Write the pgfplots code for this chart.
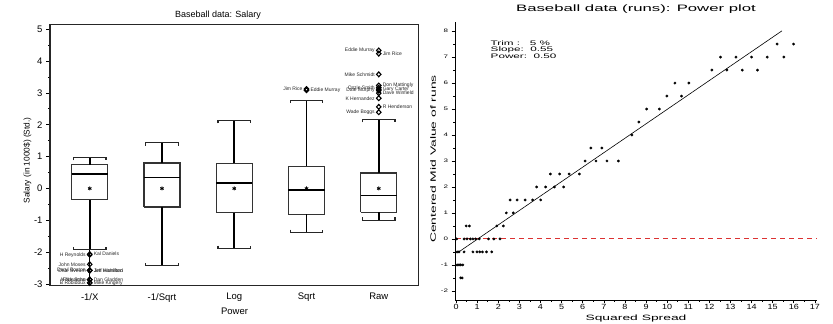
\documentclass[border=0pt]{standalone}
\usepackage{graphicx}
\usepackage{pgfplots}
\pgfplotsset{compat=1.18}
\usepackage{fontspec}
\setmainfont{Liberation Sans}
% extended faces used on the power plot
\newfontfamily\wideA[FakeStretch=1.8]{Liberation Sans}
\newfontfamily\wideB[FakeStretch=1.2]{Liberation Sans}
\newfontfamily\wideC[FakeStretch=1.6]{Liberation Sans}
\definecolor{refred}{RGB}{220,50,50}

\pgfplotsset{
  boxedge/.style={black!80, line width=1.3pt},
  medline/.style={black, line width=1.6pt},
  whisk/.style={black, line width=1.6pt},
  capline/.style={black!85, line width=1.1pt},
  outl/.style={only marks, mark=diamond, mark size=2.4pt,
    mark options={draw=black, fill=white, line width=1.1pt, xscale=1.25},
    nodes near coords, point meta=explicit symbolic},
  labL/.style={nodes near coords style={anchor=east, xshift=-3.5pt,
    font=\fontsize{5}{5}\selectfont, text=black!85, inner sep=0pt}},
  labR/.style={nodes near coords style={anchor=west, xshift=3.5pt,
    font=\fontsize{5}{5}\selectfont, text=black!85, inner sep=0pt}},
}

\begin{document}
\begin{tikzpicture}
\path[use as bounding box] (0pt,0pt) rectangle (833pt,324pt);

% ---------------- Salary box plots ----------------
\begin{axis}[
  at={(50pt,38.3pt)}, anchor=south west, scale only axis,
  width=368.5pt, height=261.4pt,
  xmin=0.45, xmax=5.55, ymin=-3.05, ymax=5.15,
  clip=false,
  axis line style={black!85, line width=1.1pt},
  xtick={1,2,3,4,5}, xticklabels={-1/X,-1/Sqrt,Log,Sqrt,Raw},
  xtick pos=bottom, ytick pos=left,
  major x tick style={draw=none},
  ytick={-3,-2,-1,0,1,2,3,4,5}, minor y tick num=1,
  tick align=outside,
  major tick length=4pt, minor tick length=2pt,
  tick style={black, line width=0.6pt},
  tick label style={font=\fontsize{9.5}{10}\selectfont},
  /pgf/number format/assume math mode=true,
]
% -1/X
\addplot[boxedge] coordinates {(0.75,-0.35) (1.25,-0.35) (1.25,0.75) (0.75,0.75) (0.75,-0.35)};
\addplot[medline] coordinates {(0.75,0.46) (1.25,0.46)};
\addplot[whisk] coordinates {(1,0.75) (1,0.97)};
\addplot[whisk] coordinates {(1,-0.35) (1,-1.92)};
\addplot[black, line width=1.2pt] coordinates {(1,-1.92) (1,-3.05)};
\addplot[capline] coordinates {(0.775,0.88) (0.775,0.97) (1.225,0.97) (1.225,0.88)};
\addplot[capline] coordinates {(0.775,-1.83) (0.775,-1.92) (1.225,-1.92) (1.225,-1.83)};
% -1/Sqrt
\addplot[boxedge] coordinates {(1.75,-0.58) (2.25,-0.58) (2.25,0.80) (1.75,0.80) (1.75,-0.58)};
\addplot[medline] coordinates {(1.75,0.35) (2.25,0.35)};
\addplot[whisk] coordinates {(2,0.80) (2,1.43)};
\addplot[whisk] coordinates {(2,-0.58) (2,-2.43)};
\addplot[capline] coordinates {(1.775,1.34) (1.775,1.43) (2.225,1.43) (2.225,1.34)};
\addplot[capline] coordinates {(1.775,-2.34) (1.775,-2.43) (2.225,-2.43) (2.225,-2.34)};
% Log
\addplot[boxedge] coordinates {(2.75,-0.76) (3.25,-0.76) (3.25,0.79) (2.75,0.79) (2.75,-0.76)};
\addplot[medline] coordinates {(2.75,0.17) (3.25,0.17)};
\addplot[whisk] coordinates {(3,0.79) (3,2.13)};
\addplot[whisk] coordinates {(3,-0.76) (3,-1.88)};
\addplot[capline] coordinates {(2.775,2.04) (2.775,2.13) (3.225,2.13) (3.225,2.04)};
\addplot[capline] coordinates {(2.775,-1.79) (2.775,-1.88) (3.225,-1.88) (3.225,-1.79)};
% Sqrt
\addplot[boxedge] coordinates {(3.75,-0.81) (4.25,-0.81) (4.25,0.70) (3.75,0.70) (3.75,-0.81)};
\addplot[medline] coordinates {(3.75,-0.05) (4.25,-0.05)};
\addplot[whisk] coordinates {(4,0.70) (4,2.77)};
\addplot[whisk] coordinates {(4,-0.81) (4,-1.38)};
\addplot[capline] coordinates {(3.775,2.68) (3.775,2.77) (4.225,2.77) (4.225,2.68)};
\addplot[capline] coordinates {(3.775,-1.29) (3.775,-1.38) (4.225,-1.38) (4.225,-1.29)};
% Raw
\addplot[boxedge] coordinates {(4.75,-0.75) (5.25,-0.75) (5.25,0.49) (4.75,0.49) (4.75,-0.75)};
\addplot[medline] coordinates {(4.75,-0.22) (5.25,-0.22)};
\addplot[whisk] coordinates {(5,0.49) (5,2.16)};
\addplot[whisk] coordinates {(5,-0.75) (5,-1.00)};
\addplot[capline] coordinates {(4.775,2.07) (4.775,2.16) (5.225,2.16) (5.225,2.07)};
\addplot[capline] coordinates {(4.775,-0.91) (4.775,-1.00) (5.225,-1.00) (5.225,-0.91)};
% means
\addplot[only marks, mark=asterisk, mark size=2pt, mark options={black, line width=0.8pt}]
  coordinates {(1,0) (2,0) (3,0) (4,0) (5,0)};
% outliers, names to the left
\addplot[outl, labL] coordinates {
  (1,-2.08) [H Reynolds] (1,-2.38) [John Moses]
  (1,-2.57) [Dale Sveum] (1,-2.57) [Daryl Boston]
  (1,-2.86) [Al Newman] (1,-2.86) [Rick Schu] (1,-2.96) [B Robidoux]
  (4,3.12) [Jim Rice]
  (5,4.33) [Eddie Murray] (5,3.58) [Mike Schmidt] (5,3.16) [Ozzie Smith]
  (5,3.07) [Dale Murphy] (5,2.83) [K Hernandez] (5,2.39) [Wade Boggs]};
% outliers, names to the right
\addplot[outl, labR] coordinates {
  (1,-2.06) [Kal Daniels] (1,-2.57) [Jeff Hamilton] (1,-2.57) [Jim Wohlford]
  (1,-2.86) [Dan Gladden] (1,-2.96) [Mike Kingery]
  (4,3.08) [Eddie Murray]
  (5,4.23) [Jim Rice] (5,3.23) [Don Mattingly] (5,3.11) [Gary Carter]
  (5,2.99) [Dave Winfield] (5,2.56) [R Henderson]};
\end{axis}
\node[font=\fontsize{9}{10}\selectfont] at (218pt,309.3pt) {Baseball data: Salary};
\node[font=\fontsize{9.5}{10}\selectfont] at (234.5pt,12.3pt) {Power};
\node[font=\fontsize{8.3}{9}\selectfont, rotate=90] at (27.5pt,163.5pt) {Salary (in 1000\$) (Std.)};

% ---------------- Power plot for runs ----------------
\begin{axis}[
  at={(455pt,24pt)}, anchor=south west, scale only axis,
  width=362pt, height=278pt,
  xmin=-0.05, xmax=17.1, ymin=-2.35, ymax=8.35,
  clip=false,
  axis x line*=bottom, axis y line*=left,
  axis line style={black, line width=0.9pt, -},
  xtick={0,1,...,17}, ytick={-2,-1,...,8},
  minor x tick num=1, minor y tick num=1,
  tick align=outside,
  major tick length=3.5pt, minor tick length=2pt,
  tick style={black, line width=0.6pt},
  xticklabel style={font=\wideB\fontsize{7.5}{8}\selectfont, yshift=2.5pt},
  yticklabel style={font=\wideC\fontsize{5}{6}\selectfont},
  /pgf/number format/assume math mode=true,
]
\addplot[refred, line width=0.9pt, dash pattern=on 5pt off 4pt] coordinates {(0,0) (17.1,0)};
\addplot[black, line width=0.6pt] coordinates {(0.11,-0.51) (15.44,8.01)};
\addplot[only marks, mark=*, mark size=1.2pt, mark options={black}] coordinates {
  (15.21,7.5) (15.99,7.5)
  (12.53,7) (13.26,7) (14.00,7) (14.74,7) (15.53,7)
  (12.12,6.5) (12.83,6.5) (13.56,6.5) (14.28,6.5)
  (10.37,6) (11.03,6)
  (9.99,5.5) (10.68,5.5)
  (9.03,5) (9.63,5)
  (8.66,4.5)
  (8.33,4)
  (6.39,3.5) (6.91,3.5)
  (6.11,3) (6.63,3) (7.15,3) (7.69,3)
  (4.47,2.5) (4.91,2.5) (5.36,2.5) (5.84,2.5)
  (3.82,2) (4.24,2) (4.66,2) (5.10,2)
  (2.56,1.5) (2.89,1.5) (3.27,1.5) (3.63,1.5) (4.01,1.5)
  (2.38,1) (2.71,1)
  (0.48,0.5) (0.63,0.5) (1.93,0.5) (2.24,0.5)
  (0.03,0) (0.38,0) (0.52,0) (0.68,0) (0.80,0) (0.93,0) (1.10,0) (1.54,0) (1.79,0) (2.08,0)
  (0.05,-0.5) (0.14,-0.5) (0.38,-0.5) (0.80,-0.5) (0.99,-0.5) (1.12,-0.5) (1.25,-0.5) (1.44,-0.5) (1.69,-0.5)
  (0.05,-1) (0.14,-1) (0.22,-1) (0.32,-1)
  (0.22,-1.5) (0.29,-1.5)};
\end{axis}
\node[font=\wideA\fontsize{9.3}{10}\selectfont] at (636pt,314.5pt) {Baseball data (runs): Power plot};
\node[font=\wideA\fontsize{7.7}{8}\selectfont] at (636pt,5.5pt) {Squared Spread};
\node[font=\wideA\fontsize{7.7}{8}\selectfont, rotate=90] at (433pt,165pt) {Centered Mid Value of runs};
\node[font=\wideA\fontsize{6.5}{6.5}\selectfont, align=left, anchor=north west, inner sep=0pt]
  at (490.5pt,283.5pt) {Trim :\ \ \ 5 \%\\Slope:\ \ 0.55\\Power:\ \ 0.50};
\end{tikzpicture}
\end{document}
